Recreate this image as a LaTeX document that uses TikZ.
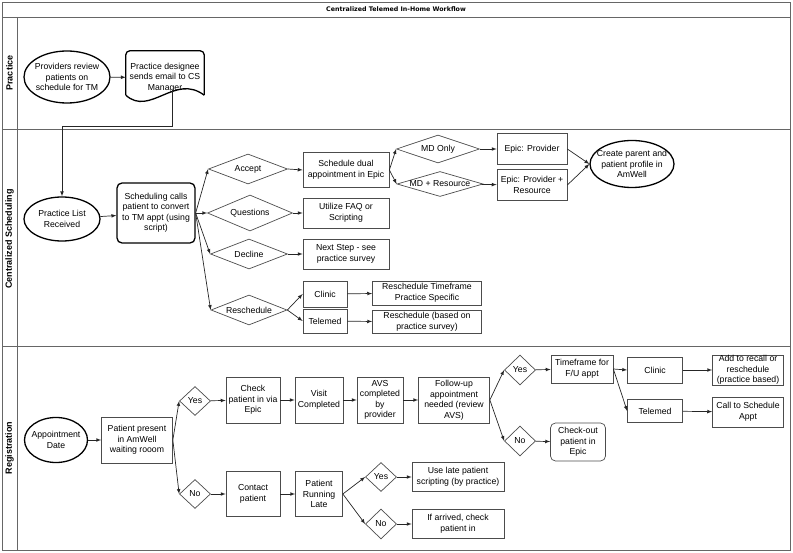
\documentclass[tikz,border=0pt]{standalone}
\usepackage{fontspec}
\setmainfont{Liberation Sans}
\newfontfamily\wffont{DejaVu Sans}
\usetikzlibrary{shapes.geometric,calc,positioning}

\begin{document}
\begin{tikzpicture}[x=1pt,y=-1pt,>=latex,font=\fontsize{8.7}{10.5}\selectfont,
lane/.style={draw=black!60,line width=0.9pt},
lanelabel/.style={rotate=90,font=\fontsize{9}{11}\selectfont\bfseries},
box/.style={draw=black!70,line width=0.7pt,align=center,inner sep=1pt},
rbox/.style={box,rounded corners=5pt},
tbox/.style={box,draw=black,line width=1.3pt,rounded corners=5pt},
dec/.style={diamond,aspect=2.4,draw=black!70,line width=0.7pt,inner sep=-3pt},
term/.style={ellipse,draw=black,line width=1.3pt,align=center,inner sep=-10pt},
flow/.style={->,draw=black!85,line width=0.7pt}]
\useasboundingbox (0,0) rectangle (793,553);
\draw[lane] (2,2) rectangle (790,550);
\draw[lane] (2,17) -- (790,17);
\draw[lane] (17,17) -- (17,550);
\draw[lane] (2,129) -- (790,129);
\draw[lane] (2,346) -- (790,346);
\node (title) at (396,9.5) {\wffont\bfseries\fontsize{6.3}{7.5}\selectfont Centralized Telemed In-Home Workflow};
\node[lanelabel] (lprac) at (9.5,73) {Practice};
\node[lanelabel] (lsched) at (9.5,239) {Centralized Scheduling};
\node[lanelabel] (lreg) at (9.5,448) {Registration};

\node[term,minimum width=86,minimum height=52] (prov) at (67,77) {Providers review\\patients on\\schedule for TM};
\node[align=center,inner sep=0pt,minimum width=78,minimum height=53] (desig) at (165,77.5) {Practice designee\\sends email to CS\\Manager};
\draw[line width=1.3pt,rounded corners=4pt] ([yshift=9pt]desig.south west) -- (desig.north west) -- (desig.north east) -- ([yshift=9pt]desig.south east);
\draw[line width=1.3pt] ([yshift=9pt]desig.south west) .. controls (150,117) and (175,73) .. ([yshift=9pt]desig.south east);
\coordinate (dwave) at (172,90);
\draw[flow] (prov) -- (desig);

\node[term,minimum width=76,minimum height=44] (plr) at (62,219) {Practice List\\Received};
\node[tbox,minimum width=78,minimum height=60] (call) at (156,213) {Scheduling calls\\patient to convert\\to TM appt (using\\script)};
\draw[flow] (dwave) -- ++(0,36) -| (plr);
\draw[flow] (plr) -- (call);

\node[dec,minimum width=79,minimum height=30] (acc) at (248,169) {Accept};
\node[dec,minimum width=85,minimum height=36] (que) at (250,213) {Questions};
\node[dec,minimum width=77,minimum height=30] (dcl) at (249,254) {Decline};
\node[dec,minimum width=76,minimum height=30] (res) at (249,310) {Reschedule};
\draw[flow] (call.east) -- (acc.west);
\draw[flow] (call.east) -- (que.west);
\draw[flow] (call.east) -- (dcl.west);
\draw[flow] (call.east) -- (res.west);

\node[box,minimum width=86,minimum height=35] (dual) at (346,170) {Schedule dual\\appointment in Epic};
\node[box,minimum width=86,minimum height=30] (faq) at (346,213) {Utilize FAQ or\\Scripting};
\node[box,minimum width=86,minimum height=30] (next) at (346,254) {Next Step - see\\practice survey};
\node[box,minimum width=44,minimum height=26] (rclin) at (325,294) {Clinic};
\node[box,minimum width=44,minimum height=24] (rtele) at (325,321) {Telemed};
\node[box,minimum width=109,minimum height=24] (rtime) at (427,293) {Reschedule Timeframe\\Practice Specific};
\node[box,minimum width=109,minimum height=23] (rsurv) at (427,322) {Reschedule (based on\\practice survey)};
\draw[flow] (acc.east) -- (dual.west);
\draw[flow] (que.east) -- (faq.west);
\draw[flow] (dcl.east) -- (next.west);
\draw[flow] (res.east) -- (rclin.west);
\draw[flow] (res.east) -- (rtele.west);
\draw[flow] (rclin) -- (rtime);
\draw[flow] (rtele) -- (rsurv);

\node[dec,minimum width=83,minimum height=28] (mdo) at (438,149) {MD Only};
\node[dec,minimum width=86,minimum height=25] (mdr) at (440,184) {MD + Resource};
\node[box,minimum width=70,minimum height=31] (epro) at (532,149) {Epic: Provider};
\node[box,minimum width=70,minimum height=31] (epres) at (532,185) {Epic: Provider +\\Resource};
\node[term,minimum width=84,minimum height=47] (prof) at (632,164) {Create parent and\\patient profile in\\AmWell};
\draw[flow] (dual.east) -- (mdo.west);
\draw[flow] (dual.east) -- (mdr.west);
\draw[flow] (mdo) -- (epro);
\draw[flow] (mdr) -- (epres);
\draw[flow] (epro.east) -- (prof.west);
\draw[flow] (epres.east) -- (prof.west);

\node[term,minimum width=63,minimum height=45] (appt) at (56,440) {Appointment\\Date};
\node[box,minimum width=71,minimum height=46] (wait) at (137,440) {Patient present\\in AmWell\\waiting rooom};
\node[dec,minimum width=31,minimum height=29] (yin) at (195,401) {Yes};
\node[dec,minimum width=31,minimum height=29] (nin) at (195,494) {No};
\node[box,minimum width=54,minimum height=46] (chk) at (253,400) {Check\\patient in via\\Epic};
\node[box,minimum width=54,minimum height=45] (cont) at (253,494) {Contact\\patient};
\node[box,minimum width=48,minimum height=46] (visit) at (319,400) {Visit\\Completed};
\node[box,minimum width=46,minimum height=46] (avs) at (380,400) {AVS\\completed\\by\\provider};
\node[box,minimum width=71,minimum height=46] (fup) at (454,400) {Follow-up\\appointment\\needed (review\\AVS)};
\node[dec,minimum width=31,minimum height=30] (yfu) at (520,370) {Yes};
\node[dec,minimum width=31,minimum height=30] (nfu) at (520,441) {No};
\node[box,minimum width=62,minimum height=28] (tf) at (582,369) {Timeframe for\\F/U appt};
\node[box,minimum width=55,minimum height=26] (cclin) at (655,370) {Clinic};
\node[box,minimum width=55,minimum height=23] (ctele) at (655,411) {Telemed};
\node[box,inner ysep=0pt,minimum width=71,minimum height=30] (recall) at (748,370) {Add to recall or\\reschedule\\(practice based)};
\node[box,minimum width=71,minimum height=30] (callsch) at (748,412) {Call to Schedule\\Appt};
\node[rbox,minimum width=55,minimum height=38] (cout) at (578,442) {Check-out\\patient in\\Epic};
\node[box,minimum width=47,minimum height=45] (late) at (319,494) {Patient\\Running\\Late};
\node[dec,minimum width=31,minimum height=29] (ylate) at (381,477) {Yes};
\node[dec,minimum width=31,minimum height=30] (nlate) at (381,524) {No};
\node[box,minimum width=92,minimum height=29] (uselate) at (458,477) {Use late patient\\scripting (by practice)};
\node[box,minimum width=92,minimum height=29] (arrived) at (458,524) {If arrived, check\\patient in};

\draw[flow] (appt) -- (wait);
\draw[flow] (wait.east) -- (yin.west);
\draw[flow] (wait.east) -- (nin.west);
\draw[flow] (yin) -- (chk);
\draw[flow] (nin) -- (cont);
\draw[flow] (chk) -- (visit);
\draw[flow] (visit) -- (avs);
\draw[flow] (avs) -- (fup);
\draw[flow] (fup.east) -- (yfu.west);
\draw[flow] (fup.east) -- (nfu.west);
\draw[flow] (yfu) -- (tf);
\draw[flow] (nfu) -- (cout);
\draw[flow] (tf.east) -- (cclin.west);
\draw[flow] (tf.east) -- (ctele.west);
\draw[flow] (cclin) -- (recall);
\draw[flow] (ctele) -- (callsch);
\draw[flow] (cont) -- (late);
\draw[flow] (late.east) -- (ylate.west);
\draw[flow] (late.east) -- (nlate.west);
\draw[flow] (ylate) -- (uselate);
\draw[flow] (nlate) -- (arrived);
\end{tikzpicture}
\end{document}
